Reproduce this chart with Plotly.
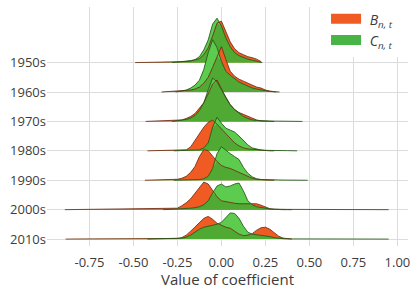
import numpy as np
import plotly.graph_objects as go

DECADES = ["1950s", "1960s", "1970s", "1980s", "1990s", "2000s", "2010s"]

GRID = [-0.25, -0.225, -0.2, -0.175, -0.15, -0.125, -0.1, -0.075, -0.05, -0.025,
        0.0, 0.025, 0.05, 0.075, 0.1, 0.125, 0.15, 0.175, 0.2, 0.225,
        0.25, 0.275, 0.3, 0.325, 0.35, 0.375]

# density heights (relative units) of B_{n,t} per decade on GRID
B_1950 = [0.5, 0.7, 1, 1.5, 2.5, 4, 8, 15, 27, 40, 42, 32, 21, 14, 10, 8, 6, 5, 3.5, 1, 0, 0, 0, 0, 0, 0]
B_1960 = [0.7, 1, 1.5, 2, 3, 5, 9, 15, 25, 36, 46, 33, 21, 16, 13, 11, 9, 7, 5, 4, 2, 1, 0.5, 0, 0, 0]
B_1970 = [1, 1.5, 3, 5, 8, 13, 19, 28, 38, 42, 33, 24, 17, 12, 9, 7, 5, 3, 1.5, 0.5, 0, 0, 0, 0, 0, 0]
B_1980 = [0.3, 0.5, 1, 4, 11, 18, 24, 29, 31, 27, 22, 17, 12, 8, 5, 3, 2, 1.5, 0.8, 0.3, 0, 0, 0, 0, 0, 0]
B_1990 = [1, 2, 4, 8, 14, 24, 31, 30, 24, 19, 15, 13, 12, 10, 8, 6, 4, 2, 1, 0.5, 0, 0, 0, 0, 0, 0]
B_2000 = [1.5, 4, 7, 11, 17, 23, 28, 26, 20, 13, 9, 8, 7, 6.5, 6, 6, 6, 6.5, 6, 4.5, 2.5, 1, 0.5, 0, 0, 0]
B_2010 = [0.5, 1.5, 4, 8, 12, 17, 21, 23, 20, 16, 14, 12, 11, 8, 5, 3.5, 4, 5.5, 9, 11.5, 12, 10, 6, 3, 1, 0.3]

# density heights of C_{n,t} per decade on GRID
C_1950 = [0.5, 0.8, 1, 2, 3, 6, 13, 23, 39, 45, 37, 25, 16, 10, 7, 5, 3.5, 2.5, 1.5, 0.5, 0, 0, 0, 0, 0, 0]
C_1960 = [0.5, 1, 2, 4, 7, 12, 23, 40, 53, 45, 31, 21, 17, 13, 10, 8, 6, 4, 3, 2, 1, 0.5, 0.3, 0, 0, 0]
C_1970 = [0.5, 1, 2, 3.5, 6, 11, 19, 32, 44, 40, 32, 24, 17, 12, 8, 5, 3, 1.5, 1, 0.7, 0.5, 0.4, 0.3, 0.3, 0.2, 0.2]
C_1980 = [0.1, 0.2, 0.3, 0.4, 0.5, 1, 3, 8, 24, 34, 28, 23, 21, 19, 15, 10, 6, 3, 1.5, 0.8, 0.5, 0.3, 0.2, 0.2, 0.2, 0.2]
C_1990 = [0.1, 0.1, 0.1, 0.2, 0.3, 0.7, 1.5, 4, 12, 27, 34, 30, 27, 24, 21, 13, 7, 3.5, 1.5, 0.8, 0.5, 0.4, 0.3, 0.3, 0.2, 0.2]
C_2000 = [0.5, 0.7, 1, 1.5, 2, 3, 5, 9, 17, 24, 26, 23, 24, 26, 27, 19, 9, 5, 3, 2, 1, 0.7, 0.5, 0.4, 0.3, 0.3]
C_2010 = [0.5, 1, 2, 4, 7, 10, 12, 13, 14, 15, 17, 22, 26.5, 26, 21, 13, 7, 5, 4.5, 4, 3.5, 2.5, 1.5, 0.8, 0.4, 0.2]

# support (tail extents) of each density
B_MIN = [-0.49, -0.34, -0.43, -0.42, -0.435, -0.89, -0.885]
B_MAX = [0.23, 0.31, 0.30, 0.30, 0.30, 0.40, 0.40]
C_MIN = [-0.28, -0.26, -0.28, -0.27, -0.27, -0.33, -0.42]
C_MAX = [0.23, 0.33, 0.46, 0.43, 0.49, 0.95, 0.95]

X_TICKS = [-0.75, -0.5, -0.25, 0.0, 0.25, 0.5, 0.75, 1.0]
X_TICKTEXT = ["-0.75", "-0.50", "-0.25", "0.00", "0.25", "0.50", "0.75", "1.00"]

B_ROWS = [B_1950, B_1960, B_1970, B_1980, B_1990, B_2000, B_2010]
C_ROWS = [C_1950, C_1960, C_1970, C_1980, C_1990, C_2000, C_2010]

ORANGE = "#F05A23"
GREEN_LIGHT = "#5DCB4D"
GREEN_DARK = "#4FA932"
GREEN_LEG = "#47B445"
B_LINE = "rgba(110,45,20,0.85)"
C_LINE = "rgba(35,85,25,0.85)"
SCALE = 1 / 29.8
FONT = "Open Sans"
TXT = "#3c3c3c"


def curve(vals, lo, hi):
    xs = [lo] + [g for g, v in zip(GRID, vals) if lo < g < hi] + [hi]
    hs = [0.0] + [v for g, v in zip(GRID, vals) if lo < g < hi] + [0.0]
    return np.array(xs), np.array(hs, dtype=float)


fig = go.Figure()
n = len(DECADES)
for i, dec in enumerate(DECADES):
    base = n - 1 - i
    xb, hb = curve(B_ROWS[i], B_MIN[i], B_MAX[i])
    xc, hc = curve(C_ROWS[i], C_MIN[i], C_MAX[i])
    xu = np.unique(np.concatenate([xb, xc]))
    hbm = np.interp(xu, xb, hb, left=0, right=0)
    hcm = np.interp(xu, xc, hc, left=0, right=0)
    hm = np.minimum(hbm, hcm)
    fig.add_trace(go.Scatter(x=xb, y=base + hb * SCALE, fill="toself", fillcolor=ORANGE,
                             mode="lines", line=dict(width=0, color=ORANGE),
                             showlegend=False, hoverinfo="skip"))
    fig.add_trace(go.Scatter(x=xc, y=base + hc * SCALE, fill="toself", fillcolor=GREEN_LIGHT,
                             mode="lines", line=dict(width=0, color=GREEN_LIGHT),
                             showlegend=False, hoverinfo="skip"))
    fig.add_trace(go.Scatter(x=xu, y=base + hm * SCALE, fill="toself", fillcolor=GREEN_DARK,
                             mode="lines", line=dict(width=0, color=GREEN_DARK),
                             showlegend=False, hoverinfo="skip"))
    fig.add_trace(go.Scatter(x=xb, y=base + hb * SCALE, mode="lines",
                             line=dict(width=1, color=B_LINE),
                             showlegend=False, hoverinfo="skip"))
    fig.add_trace(go.Scatter(x=xc, y=base + hc * SCALE, mode="lines",
                             line=dict(width=1, color=C_LINE),
                             showlegend=False, hoverinfo="skip"))

fig.add_trace(go.Scatter(x=[None], y=[None], fill="toself", fillcolor=ORANGE, mode="lines",
                         line=dict(width=8, color=ORANGE),
                         name="\u00a0<i>B</i><sub><i>n, t</i></sub>"))
fig.add_trace(go.Scatter(x=[None], y=[None], fill="toself", fillcolor=GREEN_LEG, mode="lines",
                         line=dict(width=8, color=GREEN_LEG),
                         name="\u00a0<i>C</i><sub><i>n, t</i></sub>"))

fig.update_layout(
    width=415, height=289,
    margin=dict(l=47, r=7, t=4, b=43),
    paper_bgcolor="white", plot_bgcolor="white",
    font=dict(family=FONT, size=13, color=TXT),
    xaxis=dict(range=[-0.991, 1.06], tickvals=X_TICKS, ticktext=X_TICKTEXT,
               showgrid=True, gridcolor="#dcdcdc", gridwidth=1, zeroline=False,
               showline=False, ticks="outside", ticklen=4, tickcolor="rgba(0,0,0,0)",
               tickfont=dict(size=13),
               title=dict(text="Value of coefficient", font=dict(size=15), standoff=1)),
    yaxis=dict(range=[-0.235, 7.89], tickvals=[n - 1 - i for i in range(n)], ticktext=DECADES,
               showgrid=True, gridcolor="#dcdcdc", gridwidth=1, zeroline=False,
               showline=False, ticks="", tickfont=dict(size=13)),
    legend=dict(x=0.773, y=1.012, xanchor="left", yanchor="top", bgcolor="white",
                font=dict(size=14, color=TXT), tracegroupgap=0),
    showlegend=True,
)

fig.write_html("out.html", config={"displayModeBar": False},
               post_script="document.body.style.margin='0';")
